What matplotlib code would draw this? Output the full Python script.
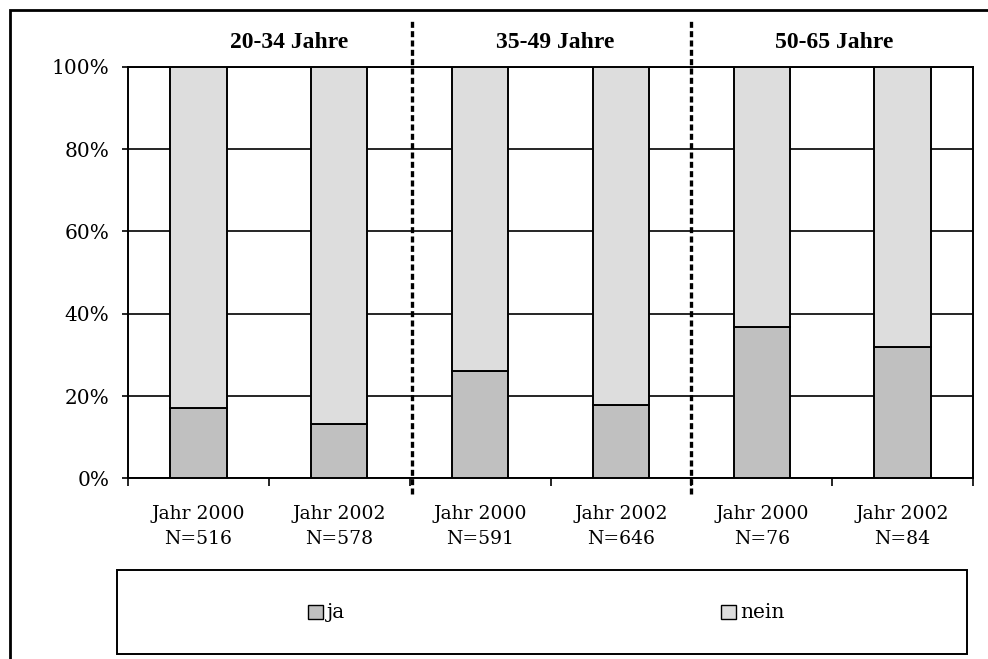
import numpy as np
import matplotlib.pyplot as plt
from matplotlib.patches import Rectangle

# share of "ja" answers per age group and survey year
jahre = ["Jahr 2000", "Jahr 2002", "Jahr 2000", "Jahr 2002", "Jahr 2000", "Jahr 2002"]
n_werte = [516, 578, 591, 646, 76, 84]
ja = [17.2, 13.2, 26.1, 17.8, 36.8, 31.9]
nein = [100 - v for v in ja]
gruppen = ["20-34 Jahre", "35-49 Jahre", "50-65 Jahre"]
gruppen_x = [289.5, 555.5, 834]      # label centres, pixels
trenner = [2.015, 4.0]               # dividers between the age groups

W, H = 988, 659
fig = plt.figure(figsize=(W / 100, H / 100), dpi=100)
ax = fig.add_axes([128 / W, 1 - 478.3 / H, (973 - 128) / W, (478.3 - 66.8) / H])

serif = "DejaVu Serif"
c_ja = "#C0C0C0"
c_nein = "#DDDDDD"

x = np.arange(len(ja)) + 0.5
ax.bar(x, ja, width=0.4, color=c_ja, edgecolor="black", linewidth=1.4, zorder=3)
ax.bar(x, nein, width=0.4, bottom=ja, color=c_nein, edgecolor="black",
       linewidth=1.4, zorder=3)

ax.set_xlim(0, 6)
ax.set_ylim(0, 100)
ax.set_yticks(np.arange(0, 101, 20))
ax.set_yticklabels([f"{v}%" for v in range(0, 101, 20)], fontfamily=serif, fontsize=14.5)
ax.yaxis.grid(True, color="black", linewidth=1.2, zorder=1)
ax.tick_params(axis="y", length=4.5, width=1.2, pad=9)

ax.set_xticks(np.arange(0, 7))
ax.set_xticklabels([])
ax.tick_params(axis="x", which="major", length=5.5, width=1.2)
ax.set_xticks(x, minor=True)
ax.set_xticklabels([f"{j}\nN={n}" for j, n in zip(jahre, n_werte)], minor=True,
                   fontfamily=serif, fontsize=13.5, linespacing=1.5)
ax.tick_params(axis="x", which="minor", length=0, pad=19)

for s in ax.spines.values():
    s.set_linewidth(1.4)

for xt in trenner:
    ax.axvline(xt, ymin=-0.038, ymax=1.116, color="black", linewidth=2.4,
               linestyle=(0, (1.8, 1.0)), clip_on=False, zorder=5)

for g, gx in zip(gruppen, gruppen_x):
    fig.text(gx / W, 1 - 43 / H, g, ha="center", va="center",
             fontfamily="Liberation Serif", fontweight="bold", fontsize=17)

# outer frame (right and bottom edges lie outside the image)
fig.add_artist(Rectangle((10 / W, -0.05), 1.2, 1 - 10 / H + 0.05,
                         transform=fig.transFigure, fill=False,
                         edgecolor="black", linewidth=2.0))

# legend box with the two series
fig.add_artist(Rectangle((117 / W, 1 - 654 / H), (967 - 117) / W, (654 - 570) / H,
                         transform=fig.transFigure, fill=False,
                         edgecolor="black", linewidth=1.4))
for lbl, col, px in [("ja", c_ja, 308), ("nein", c_nein, 721)]:
    fig.add_artist(Rectangle((px / W, 1 - 619 / H), 15 / W, 14 / H,
                             transform=fig.transFigure, facecolor=col,
                             edgecolor="black", linewidth=1.0))
    fig.text((px + 19) / W, 1 - 612 / H, lbl, ha="left", va="center",
             fontfamily=serif, fontsize=14.5)

fig.savefig("out.png", dpi=100)
